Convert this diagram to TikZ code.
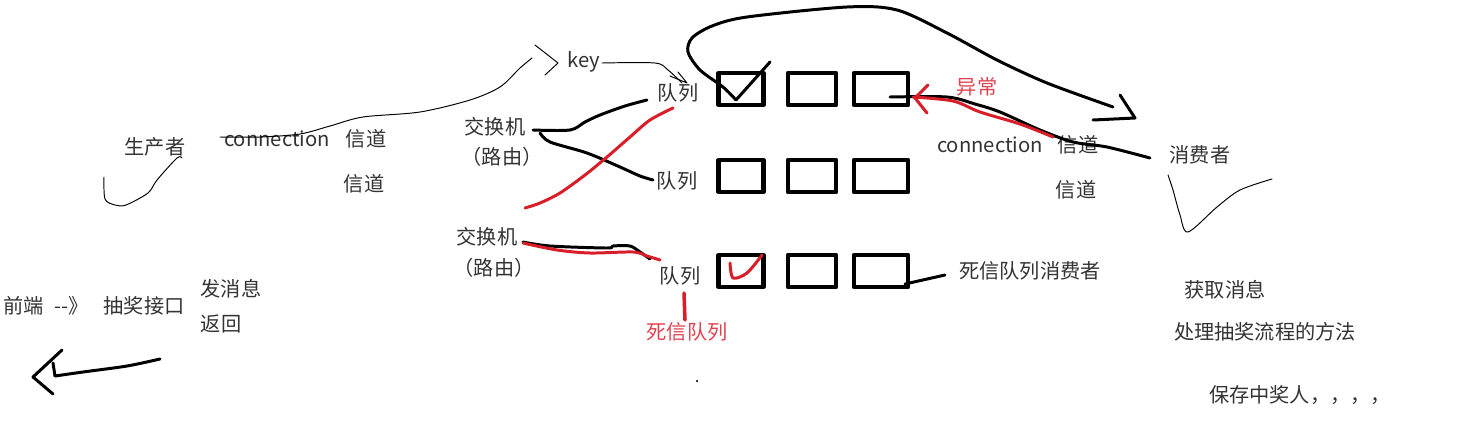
\documentclass[tikz,border=0pt]{standalone}
\usepackage{fontspec}
\setmainfont{Noto Sans CJK SC}
\usepackage{tikz}
\usetikzlibrary{positioning}
\definecolor{moxie}{HTML}{333333}
\definecolor{bihong}{HTML}{D81E28}
\definecolor{zihong}{HTML}{E0424F}
\begin{document}
\begin{tikzpicture}[x=0.02cm,y=-0.02cm,line cap=round,line join=round,
  font=\fontsize{11.5}{13}\selectfont,text=moxie,
  lbl/.style={inner sep=0pt},
  hlbl/.style={inner sep=0pt,text=zihong},
  qbox/.style={draw=black,line width=2.4pt,minimum height=0.64cm,inner sep=0pt},
  xian/.style={line width=0.55pt},
  cu/.style={line width=1.7pt},
  hong/.style={draw=bihong}]
\path[use as bounding box] (0,0) rectangle (1458,420);
\fill[white] (0,0) rectangle (1458,420);

% 三排队列格子
\foreach \r/\y in {1/89,2/176,3/271}{
  \node[qbox,minimum width=0.9cm] (q\r a) at (741,\y) {};
  \node[qbox,minimum width=0.96cm] (q\r b) at (812,\y) {};
  \node[qbox,minimum width=1.08cm] (q\r c) at (881,\y) {};
}

% 生产者一侧
\node[lbl] (sc) at (155,147) {生产者};
\node[lbl] (conn1) at (277,139) {connection};
\node[lbl] (xd1) at (366,139) {信道};
\node[lbl] (xd2) at (364,184) {信道};
\node[lbl] (key) at (584,62) {key};
\node[lbl] (jh1) at (495,127) {交换机};
\node[lbl] (ly1) at (502,157) {（路由）};
\node[lbl] (dl1) at (678,93) {队列};
\node[lbl] (dl2) at (677,181) {队列};
\node[lbl] (jh2) at (487,237) {交换机};
\node[lbl] (ly2) at (494,268) {（路由）};
\node[lbl] (dl3) at (680,276) {队列};
\node[hlbl] (sx) at (687,332) {死信队列};

% 消费者一侧
\node[hlbl] (yc) at (977,87) {异常};
\node[lbl] (conn2) at (990,145) {connection};
\node[lbl] (xd3) at (1078,145) {信道};
\node[lbl] (xd4) at (1076,190) {信道};
\node[lbl] (xf) at (1200,155) {消费者};
\node[lbl] (sxxf) at (1030,271) {死信队列消费者};
\node[lbl] (hq) at (1225,290) {获取消息};
\node[lbl] (cl) at (1265,332) {处理抽奖流程的方法};
\node[lbl] (bc) at (1300,395) {保存中奖人，，，，};

% 左下：前端与抽奖接口
\node[lbl] (qd) at (24,306) {前端};
\node[lbl] (jt) at (72,306) {{-}{-}》};
\node[lbl] (jk) at (144,306) {抽奖接口};
\node[lbl] (fx) at (231,289) {发消息};
\node[lbl] (fh) at (221,324) {返回};
\node[circle,fill=black,inner sep=0.5pt] (dd) at (697,381) {};

% 细线：生产者、key、消费者
\draw[xian] plot[smooth] coordinates {(104,177)(105,199)(115,205)(126,205)(148,193)(157,180)(177,158)(182,158)};
\draw[xian] plot[smooth] coordinates {(220,137)(260,137)(300,134)(330,126)(363,117)(420,112)(470,100)(500,87)(520,68)(532,58)};
\draw[xian] (535,45)--(558,63)--(545,75);
\draw[xian] plot[smooth] coordinates {(602,63)(655,63)(668,70)(682,83)};
\draw[xian] (678,72)--(687,83)--(670,76);
\draw[xian] plot[smooth] coordinates {(1168,175)(1173,190)(1180,215)(1188,232)(1217,207)(1240,190)(1272,179)};

% 交换机到队列
\draw[cu] plot[smooth] coordinates {(533,130)(570,130)(585,122)(600,115)(625,106)(647,100)};
\draw[cu] plot[smooth] coordinates {(540,133)(550,142)(587,153)(620,167)(640,176)(653,180)};
\draw[cu,hong] plot[smooth] coordinates {(525,208)(540,203)(560,193)(585,175)(607,157)(630,137)(650,120)(673,108)};

% 大弧线与对勾
\draw[cu] (770,62)--(736,100) plot[smooth] coordinates {(736,100)(723,87)(700,70)(688,52)(692,38)(712,26)(747,17)(847,7)(897,10)(947,33)(997,60)(1047,83)(1113,107)};
\draw[cu] (1120,95)--(1135,118)--(1093,120);

% 第一排到消费者，红色异常箭头
\draw[cu] plot[smooth] coordinates {(890,97)(947,97)(975,104)(1000,112)(1040,130)(1073,142)(1107,147)(1150,158)};
\draw[cu,hong] plot[smooth] coordinates {(1053,137)(1020,124)(980,112)(953,101)(913,97)};
\draw[cu,hong] (928,85)--(915,98)--(927,113);

% 死信交换机
\draw[cu] plot[smooth] coordinates {(523,242)(550,246)(607,248)(613,246)(630,246)(640,252)(650,259)};
\draw[cu,hong] plot[smooth] coordinates {(523,243)(557,250)(590,253)(633,252)(647,256)(660,260)};
\draw[hong,line width=2pt] (684,293)--(685,320);
\draw[cu,hong] plot[smooth] coordinates {(730,263)(733,278)(747,273)(762,255)};
\draw[cu] (905,284)--(945,275);

% 左下返回箭头
\draw[cu] plot[smooth] coordinates {(160,359)(127,366)(83,372)(55,376)};
\draw[cu] (53,363)--(55,376);
\draw[cu] (62,350)--(33,377)--(53,394);
\end{tikzpicture}
\end{document}
